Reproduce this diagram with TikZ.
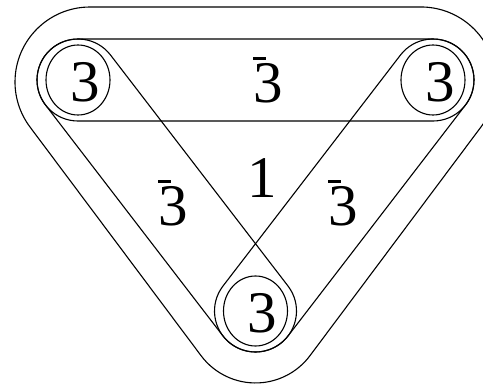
\documentclass[tikz,border=0pt]{standalone}
\usepackage{amsmath}
\usepackage{fontspec}
\setmainfont{Liberation Serif}
\usepackage{tikz}
\usetikzlibrary{calc}

\newcommand{\antithree}{\rlap{\raisebox{0.71em}{\rule{0.21em}{0.045em}}}3}

\tikzset{
    rep/.style={font=\fontsize{59}{59}\selectfont, inner sep=0pt},
    quark/.style={line width=1.1pt},
}

\begin{document}
\begin{tikzpicture}[x=1pt, y=1pt, line width=1.1pt]
    \useasboundingbox (0,0) rectangle (483,384);
    \clip (0,0) rectangle (483,384);

    \coordinate (tl) at (78,304);
    \coordinate (tr) at (433,304);
    \coordinate (bt) at (255.5,73);

    % outer contour
    \draw (90,377) arc[start angle=90, end angle=216.7, radius=75pt]
        -- (201,28.4) arc[start angle=216.7, end angle=323.3, radius=68pt]
        -- (481.1,257.2) arc[start angle=-36.7, end angle=90, radius=75pt] -- cycle;

    % diquark bands
    \foreach \a/\b in {tl/tr, tl/bt, tr/bt}
        \draw let \p1=($(\b)-(\a)$), \n1={atan2(\y1,\x1)} in
            ($(\a)!41pt!90:(\b)$) -- ($(\b)!41pt!-90:(\a)$)
            arc[start angle=\n1+90, delta angle=-180, radius=41pt]
            -- ($(\a)!41pt!-90:(\b)$)
            arc[start angle=\n1-90, delta angle=-180, radius=41pt] -- cycle;

    % quarks
    \foreach \c in {tl, tr, bt} {
        \draw[quark] (\c) ellipse[x radius=32pt, y radius=35pt];
        \node[rep] (\c-rep) at ([xshift=7pt, yshift=-2pt]\c) {3};
    }

    \node[rep, anchor=base] (top-rep) at (268,282) {\antithree};
    \node[rep, anchor=base] (mid-rep) at (262,187) {1};
    \node[rep, anchor=base] (left-rep) at (173,159) {\antithree};
    \node[rep, anchor=base] (right-rep) at (343,159) {\antithree};
\end{tikzpicture}
\end{document}
